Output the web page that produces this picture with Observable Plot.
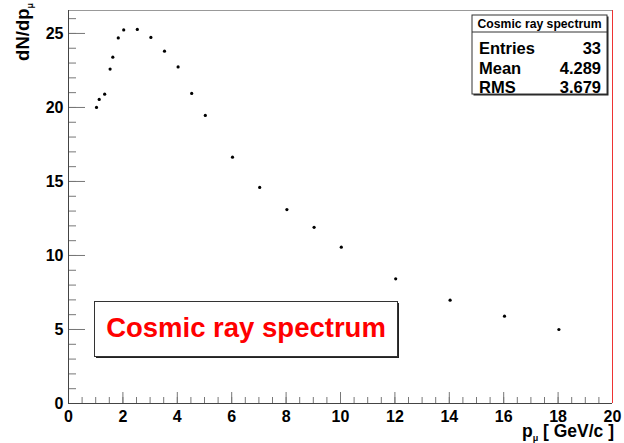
<!DOCTYPE html>
<html>
<head>
<meta charset="utf-8">
<script src="https://cdn.jsdelivr.net/npm/d3@7"></script>
<script src="https://cdn.jsdelivr.net/npm/@observablehq/plot@0.6"></script>
<style>
  html, body { margin: 0; padding: 0; background: #fff; }
  #chart { width: 624px; height: 443px; }
  #chart svg text { white-space: pre; }
</style>
</head>
<body>
<div id="chart"></div>
<script>
// ---- data ----
const momentum = [1, 1.1, 1.3, 1.5, 1.6, 1.8, 2, 2.5, 3, 3.5, 4, 4.5, 5, 6, 7, 8, 9, 10, 12, 14, 16, 18];
const counts   = [20.0, 20.54, 20.9, 22.59, 23.4, 24.7, 25.24, 25.27, 24.73, 23.8, 22.74, 20.95, 19.46, 16.64, 14.6, 13.1, 11.9, 10.56, 8.42, 6.98, 5.9, 5.0];
const xMajorTicks = [0, 2, 4, 6, 8, 10, 12, 14, 16, 18, 20];
const xMinorTicks = d3.range(0, 20.01, 0.5);
const yMajorTicks = [0, 5, 10, 15, 20, 25];
const yMinorTicks = d3.range(0, 26.5, 1);
const xDomain = [0, 20];
const yDomain = [0, 26.55];
const statsTitle = "Cosmic ray spectrum";
const statsLabels = ["Entries", "Mean", "RMS"];
const statsValues = ["33", "4.289", "3.679"];
const boxLabel = "Cosmic ray spectrum";

const data = momentum.map((x, i) => ({x, y: counts[i]}));

const FONT = "'Liberation Sans', Arial, Helvetica, sans-serif";
const tickColor = "#777";
const axisColor = "#444";

const svg = Plot.plot({
  width: 624,
  height: 443,
  marginLeft: 68,
  marginRight: 12,
  marginTop: 10,
  marginBottom: 40,
  x: {domain: xDomain},
  y: {domain: yDomain},
  style: {fontFamily: FONT, fontWeight: "bold", fontSize: "16px", color: "#000", background: "#fff"},
  marks: [
    Plot.axisX({ticks: xMinorTicks, tickSize: -6, text: null, stroke: tickColor, label: null}),
    Plot.axisX({ticks: xMajorTicks, tickSize: -11, text: null, stroke: tickColor, label: null}),
    Plot.axisX({ticks: xMajorTicks, tickSize: 0, tickPadding: 7, tickFormat: d => String(d), label: null, fill: "#000"}),
    Plot.axisY({ticks: yMinorTicks, tickSize: -8, text: null, stroke: tickColor, label: null}),
    Plot.axisY({ticks: yMajorTicks, tickSize: -17, text: null, stroke: tickColor, label: null}),
    Plot.axisY({ticks: yMajorTicks, tickSize: 0, tickPadding: 5, tickFormat: d => String(d), label: null, fill: "#000"}),
    Plot.ruleY([yDomain[1]], {stroke: "#999"}),
    Plot.ruleX([xDomain[1]], {stroke: "#e33"}),
    Plot.ruleY([0], {stroke: axisColor}),
    Plot.ruleX([0], {stroke: axisColor}),
    Plot.dot(data, {x: "x", y: "y", r: 1.6, fill: "#000", stroke: null, dx: 0.8})
  ]
});

const s = d3.select(svg);
// enforce bold 16px tick labels
s.selectAll("g").filter(function() { return (this.getAttribute("aria-label") || "").includes("tick label"); })
  .attr("font-size", 16).attr("font-weight", "bold")
  .style("font-size", "16px").style("font-weight", "bold");
s.selectAll("text").style("font-size", "16px").style("font-weight", "bold").style("font-family", FONT);

// y-axis title
const yt = s.append("text")
  .attr("transform", "translate(29,3) rotate(-90)")
  .attr("text-anchor", "end")
  .attr("font-family", FONT).attr("font-weight", "bold").attr("font-size", 18.5).attr("fill", "#000");
yt.append("tspan").text("dN/dp");
yt.append("tspan").attr("dy", 4).attr("font-size", 9).text("μ");

// x-axis title
const xt = s.append("text")
  .attr("x", 614).attr("y", 437)
  .attr("text-anchor", "end")
  .attr("font-family", FONT).attr("font-weight", "bold").attr("font-size", 17.5).attr("fill", "#000");
xt.append("tspan").text("p");
xt.append("tspan").attr("dy", 4).attr("font-size", 9).text("μ");
xt.append("tspan").attr("dy", -4).text(" [ GeV/c ]");

// stats box
const sb = {x: 472, y: 15, w: 135, h: 79};
s.append("rect").attr("x", sb.x + 1.5).attr("y", sb.y + 1.5).attr("width", sb.w).attr("height", sb.h).attr("fill", "#222");
s.append("rect").attr("x", sb.x).attr("y", sb.y).attr("width", sb.w).attr("height", sb.h).attr("fill", "#fff").attr("stroke", "#333").attr("stroke-width", 1);
s.append("line").attr("x1", sb.x).attr("x2", sb.x + sb.w).attr("y1", 32).attr("y2", 32).attr("stroke", "#333");
s.append("text").attr("x", sb.x + sb.w / 2).attr("y", 28).attr("text-anchor", "middle")
  .attr("font-family", FONT).attr("font-weight", "bold").attr("font-size", 12.2).attr("fill", "#000").text(statsTitle);
const rowBase = [54.5, 74.5, 93.5];
statsLabels.forEach((lab, i) => {
  s.append("text").attr("x", 479).attr("y", rowBase[i] - 1).attr("text-anchor", "start")
    .attr("font-family", FONT).attr("font-weight", "bold").attr("font-size", 16.5).attr("fill", "#000").text(lab);
  s.append("text").attr("x", 601).attr("y", rowBase[i] - 1).attr("text-anchor", "end")
    .attr("font-family", FONT).attr("font-weight", "bold").attr("font-size", 16.5).attr("fill", "#000").text(statsValues[i]);
});

// red label box
const lb = {x: 94.5, y: 301.5, w: 303, h: 55};
s.append("rect").attr("x", lb.x + 1.5).attr("y", lb.y + 1.5).attr("width", lb.w).attr("height", lb.h).attr("fill", "#222");
s.append("rect").attr("x", lb.x).attr("y", lb.y).attr("width", lb.w).attr("height", lb.h).attr("fill", "#fff").attr("stroke", "#333");
s.append("text").attr("x", lb.x + lb.w / 2).attr("y", 337).attr("text-anchor", "middle")
  .attr("font-family", FONT).attr("font-weight", "bold").attr("font-size", 27.5).attr("fill", "#ff0000").text(boxLabel);

document.getElementById("chart").appendChild(svg);
</script>
</body>
</html>
